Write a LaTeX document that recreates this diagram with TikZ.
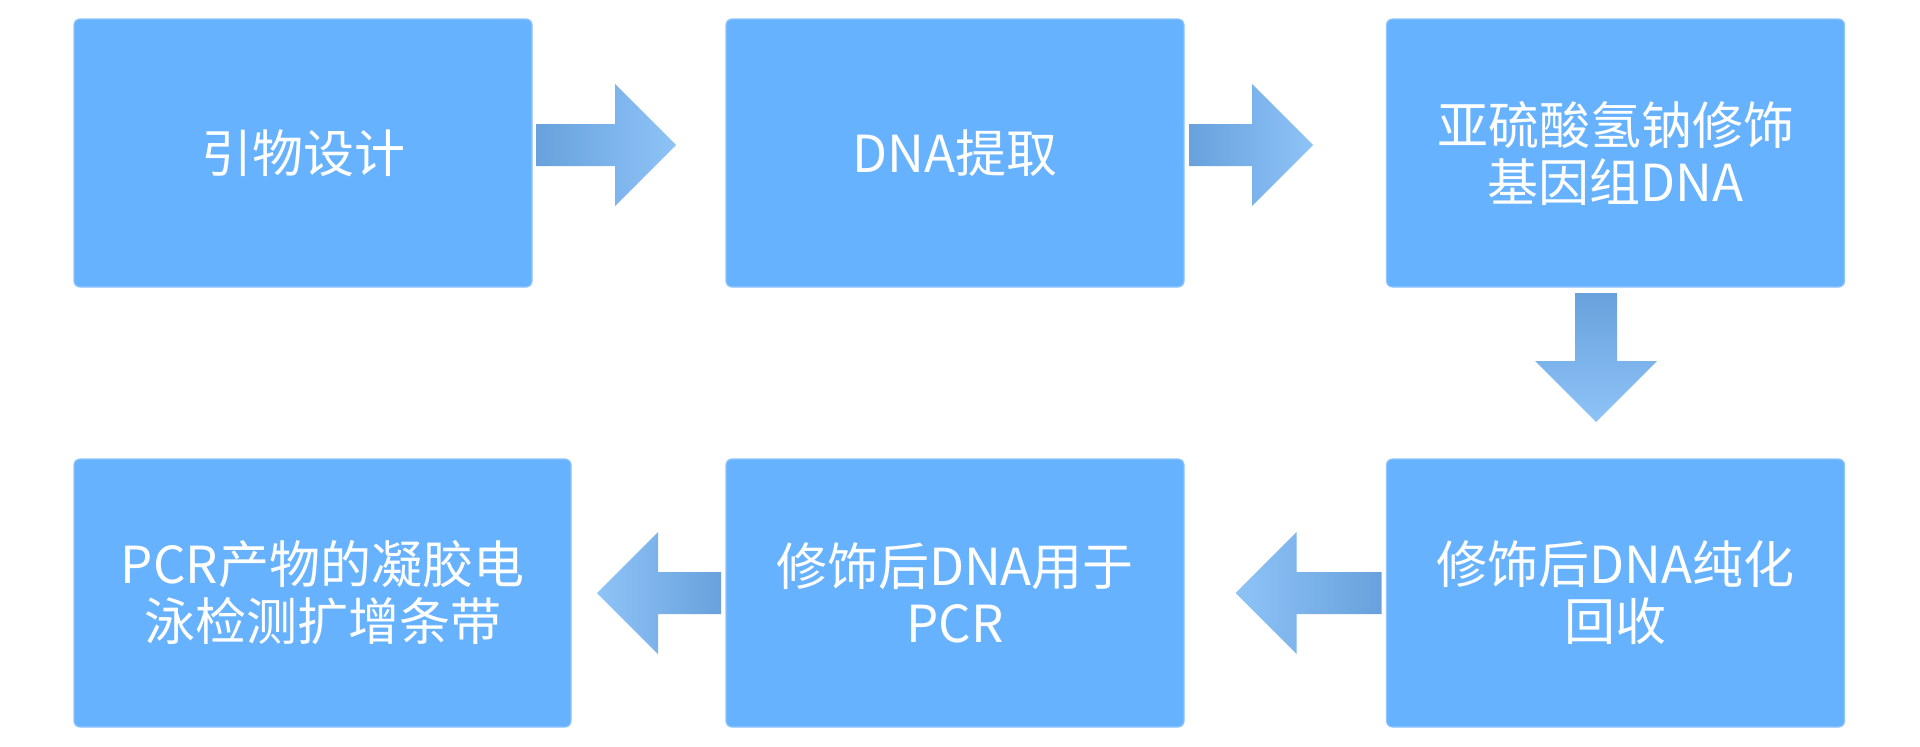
\documentclass[tikz,border=0pt]{standalone}
\usepackage{fontspec}
\setmainfont{Noto Sans CJK SC}
\usepackage{tikz}
\usetikzlibrary{calc,positioning}

\definecolor{boxblue}{RGB}{103,178,255}
\definecolor{boxline}{RGB}{140,196,255}
\definecolor{arrowdark}{RGB}{104,161,220}
\definecolor{arrowlight}{RGB}{142,195,247}

\tikzset{
  stepbox/.style={rectangle,rounded corners=3pt,fill=boxblue,draw=boxline,line width=0.6pt,
    minimum width=229pt,minimum height=134pt,inner sep=0pt,outer sep=0pt,align=center,
    text=white,font=\fontsize{25.5pt}{28.5pt}\selectfont},
  widebox/.style={stepbox,minimum width=248.5pt},
  toright/.style={left color=arrowdark,right color=arrowlight},
  toleft/.style={left color=arrowlight,right color=arrowdark},
  todown/.style={top color=arrowdark,bottom color=arrowlight}
}

% block arrow: tail, tip, shading
\newcommand{\flowarrow}[3]{%
  \coordinate (t) at #1;
  \coordinate (p) at #2;
  \coordinate (h) at ($(p)!30.5pt!(t)$);
  \shade[#3] ($(t)!10.5pt!90:(p)$) -- ($(h)!10.5pt!-90:(t)$) -- ($(h)!30.5pt!-90:(t)$)
    -- (p) -- ($(h)!30.5pt!90:(t)$) -- ($(h)!10.5pt!90:(t)$) -- ($(t)!10.5pt!-90:(p)$) -- cycle;}

\begin{document}
\begin{tikzpicture}[x=0.5pt,y=-0.5pt]
  \useasboundingbox (0,0) rectangle (1920,746);
  \node[stepbox] (design) at (303,153) {引物设计};
  \node[stepbox] (extract) at (955,153) {DNA提取};
  \node[stepbox] (bisulfite) at (1615.5,153) {亚硫酸氢钠修饰\\基因组DNA};
  \node[stepbox] (purify) at (1615.5,593) {修饰后DNA纯化\\回收};
  \node[stepbox] (pcr) at (955,593) {修饰后DNA用于\\PCR};
  \node[widebox] (gel) at (322.5,593) {PCR产物的凝胶电\\泳检测扩增条带};

  \flowarrow{($(design.east)+(4,-8)$)}{($(design.east)+(144,-8)$)}{toright}
  \flowarrow{($(extract.east)+(5,-8)$)}{($(extract.east)+(129,-8)$)}{toright}
  \flowarrow{($(bisulfite.south)+(-19.5,6)$)}{($(bisulfite.south)+(-19.5,135)$)}{todown}
  \flowarrow{($(purify.west)+(-5,0)$)}{($(purify.west)+(-151,0)$)}{toleft}
  \flowarrow{($(pcr.west)+(-5,0)$)}{($(pcr.west)+(-129,0)$)}{toleft}
\end{tikzpicture}
\end{document}
